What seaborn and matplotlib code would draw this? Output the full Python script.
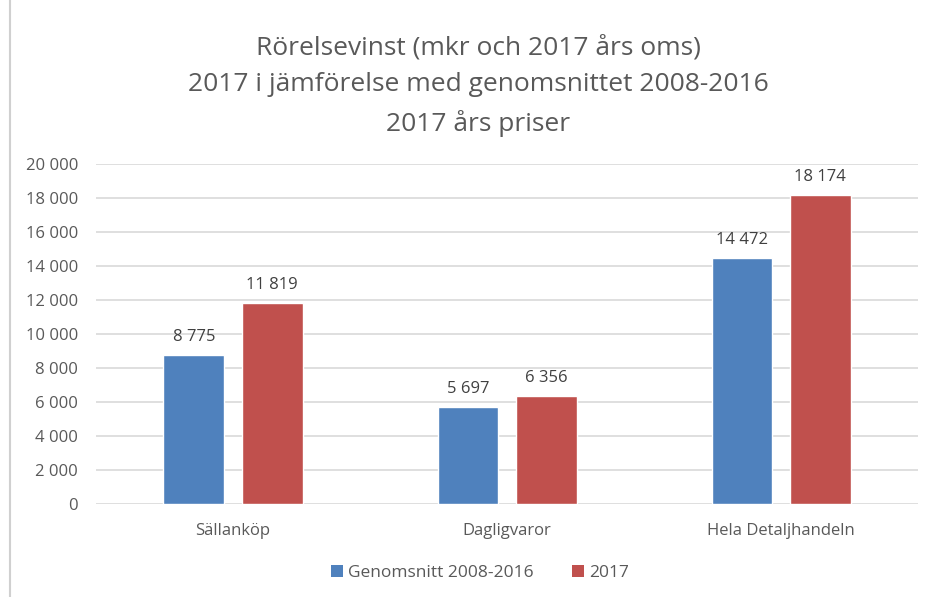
import matplotlib
matplotlib.use("Agg")
import matplotlib.pyplot as plt
import seaborn as sns
import pandas as pd
from matplotlib.lines import Line2D
from matplotlib.patches import Patch

# Data
categories = ["Sällanköp", "Dagligvaror", "Hela Detaljhandeln"]
series_names = ["Genomsnitt 2008-2016", "2017"]
avg_values = [8775, 5697, 14472]
values_2017 = [11819, 6356, 18174]
colors = ["#4F81BD", "#C0504D"]

df = pd.DataFrame({
    "Kategori": categories * 2,
    "Serie": [series_names[0]] * 3 + [series_names[1]] * 3,
    "Värde": avg_values + values_2017,
})

sns.set_theme(style="white")
plt.rcParams["font.family"] = ["Open Sans", "DejaVu Sans"]
text_col = "#595959"

fig = plt.figure(figsize=(9.3, 5.97), dpi=100)
ax = fig.add_axes([0.1032, 0.1558, 0.884, 0.5695])

sns.barplot(data=df, x="Kategori", y="Värde", hue="Serie", palette=colors,
            width=0.57, gap=0.22, ax=ax, legend=False, saturation=1)

def fmt(v):
    return f"{v:,.0f}".replace(",", " ")

for cont in ax.containers:
    for bar in cont:
        h = bar.get_height()
        ax.annotate(fmt(h), (bar.get_x() + bar.get_width() / 2, h),
                    xytext=(0, 7), textcoords="offset points",
                    ha="center", va="bottom", fontsize=12, color="#404040")

ax.set_ylim(0, 20000)
ax.set_xlim(-0.5, 2.5)
ax.set_yticks(range(0, 20001, 2000))
ax.set_yticklabels([fmt(v) for v in range(0, 20001, 2000)])
ax.yaxis.grid(True, color="#d9d9d9", linewidth=1.2)
ax.set_axisbelow(True)
for s in ax.spines.values():
    s.set_visible(False)
ax.tick_params(axis="both", length=0, labelsize=12, colors=text_col)
ax.tick_params(axis="y", pad=13)
ax.tick_params(axis="x", pad=14)
ax.set_xlabel("")
ax.set_ylabel("")

fig.text(0.514, 0.771,
         "Rörelsevinst (mkr och 2017 års oms)\n2017 i jämförelse med genomsnittet 2008-2016\n2017 års priser",
         ha="center", va="bottom", fontsize=19, color=text_col, linespacing=1.6)

handles = [Patch(facecolor=c, edgecolor="none") for c in colors]
fig.legend(handles, series_names, loc="center", bbox_to_anchor=(0.516, 0.04),
           ncol=2, frameon=False, fontsize=12.5, handlelength=0.7, handleheight=0.7,
           handletextpad=0.3, columnspacing=2.2, labelcolor=text_col)

fig.add_artist(Line2D([0.011, 0.011], [0, 1], color="#d0d0d0", linewidth=1.5,
                      transform=fig.transFigure))

fig.savefig("out.png", dpi=100)
